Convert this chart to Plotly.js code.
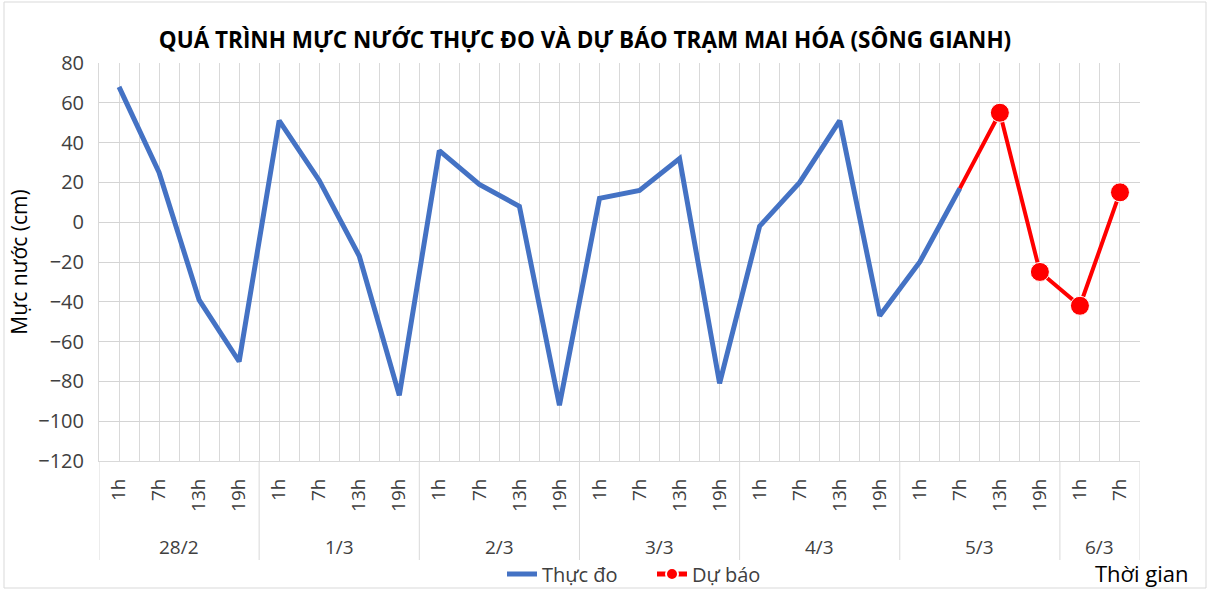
<!DOCTYPE html>
<html>
<head>
<meta charset="utf-8">
<script src="https://cdn.plot.ly/plotly-3.0.1.min.js"></script>
<style>html,body{margin:0;padding:0;background:#fff;}#chart{width:1211px;height:590px;}</style>
</head>
<body>
<div id="chart"></div>
<script>
// ---- data ----
var dates = ["28/2","28/2","28/2","28/2","1/3","1/3","1/3","1/3","2/3","2/3","2/3","2/3","3/3","3/3","3/3","3/3","4/3","4/3","4/3","4/3","5/3","5/3","5/3","5/3","6/3","6/3"];
var hours = ["1h","7h","13h","19h","1h","7h","13h","19h","1h","7h","13h","19h","1h","7h","13h","19h","1h","7h","13h","19h","1h","7h","13h","19h","1h","7h"];
var observed = [68,25,-39,-70,51,21,-17,-87,36,19,8,-92,12,16,32,-81,-2,20,51,-47,-20,17,null,null,null,null];
var forecast = [null,null,null,null,null,null,null,null,null,null,null,null,null,null,null,null,null,null,null,null,null,17,55,-25,-42,15];
var forecastMarker = [0,0,0,0,0,0,0,0,0,0,0,0,0,0,0,0,0,0,0,0,0,0,19,19,19,19];

var idx = hours.map(function(_, i){ return i; });
var FONT = "'Open Sans', 'Noto Sans', sans-serif";
var TXT = '#404040';

// plot-area pixel geometry helpers (for annotations/shapes in paper units)
var L = 99, R = 1140, T = 63, B = 461;
function px(x){ return (x - L) / (R - L); }
function py(y){ return (B - y) / (B - T); }

var shapes = [], annotations = [];
var starts = [];
for (var i = 0; i < dates.length; i++) { if (i === 0 || dates[i] !== dates[i-1]) starts.push(i); }
starts.push(dates.length);
for (var g = 0; g < starts.length; g++) {
  shapes.push({type:'line', xref:'x', yref:'paper', x0: starts[g]-0.5, x1: starts[g]-0.5,
               y0: 0, y1: py(560), line:{color:'#d9d9d9', width:1}});
}
for (var g = 0; g < starts.length - 1; g++) {
  annotations.push({xref:'x', yref:'paper', x: (starts[g] + starts[g+1]-1)/2, y: py(547),
                    text: dates[starts[g]], showarrow:false, font:{family:FONT, size:19, color:TXT},
                    xanchor:'center', yanchor:'middle'});
}
annotations.push({xref:'paper', yref:'paper', x: px(1191), y: py(573), text:'Thời gian', showarrow:false,
                  xanchor:'right', yanchor:'middle', font:{family:FONT, size:22, color:'#000'}});
// chart-area border
shapes.push({type:'rect', xref:'paper', yref:'paper', x0: px(4), x1: px(1206), y0: py(588), y1: py(2),
             line:{color:'#d9d9d9', width:1}, fillcolor:'rgba(0,0,0,0)'});

var traces = [
  {x: idx, y: observed, name: 'Thực đo', mode: 'lines', type: 'scatter',
   line: {color: '#4472C4', width: 5}, connectgaps: false},
  {x: idx, y: forecast, name: 'Dự báo', mode: 'lines+markers', type: 'scatter',
   line: {color: '#FF0000', width: 4}, marker: {color: '#FF0000', size: forecastMarker, opacity: 1}}
];

var layout = {
  width: 1211, height: 590,
  margin: {l: L, r: 1211 - R, t: T, b: 590 - B, autoexpand: false},
  paper_bgcolor: '#fff', plot_bgcolor: '#fff',
  font: {family: FONT, color: TXT},
  title: {text: '<b>QUÁ TRÌNH MỰC NƯỚC THỰC ĐO VÀ DỰ BÁO TRẠM MAI HÓA (SÔNG GIANH)</b>',
          x: 585/1211, xref: 'container', xanchor: 'center', y: 1 - 40/590, yanchor: 'middle',
          font: {family: FONT, size: 22.5, color: '#000'}},
  xaxis: {
    range: [-0.5, hours.length - 0.5], tickmode: 'array', tickvals: idx, ticktext: hours,
    tickangle: -90, ticks: '', ticklabelstandoff: 9,
    tickfont: {family: FONT, size: 19, color: TXT},
    showgrid: true, gridcolor: '#d9d9d9', gridwidth: 1,
    minor: {tickmode: 'linear', tick0: 0.5, dtick: 1, showgrid: true, gridcolor: '#d9d9d9', gridwidth: 1},
    showline: true, linecolor: '#d9d9d9', linewidth: 1, mirror: false, zeroline: false, fixedrange: true
  },
  yaxis: {
    range: [-120, 80], tickmode: 'linear', tick0: -120, dtick: 20,
    tickfont: {family: FONT, size: 20, color: TXT},
    showgrid: true, gridcolor: '#d4d4d4', gridwidth: 1, zeroline: false,
    showline: true, linecolor: '#d9d9d9', ticks: '', ticklabelstandoff: 10,
    title: {text: 'Mực nước (cm)', standoff: 4, font: {family: FONT, size: 21, color: '#000'}}
  },
  showlegend: true,
  legend: {orientation: 'h', x: px(502), xanchor: 'left', y: py(574), yanchor: 'middle',
           entrywidth: 105, entrywidthmode: 'pixels',
           font: {family: FONT, size: 20, color: TXT}, itemsizing: 'constant', bgcolor: 'rgba(0,0,0,0)'},
  shapes: shapes, annotations: annotations
};

Plotly.newPlot('chart', traces, layout, {displayModeBar: false, staticPlot: true});
</script>
</body>
</html>
